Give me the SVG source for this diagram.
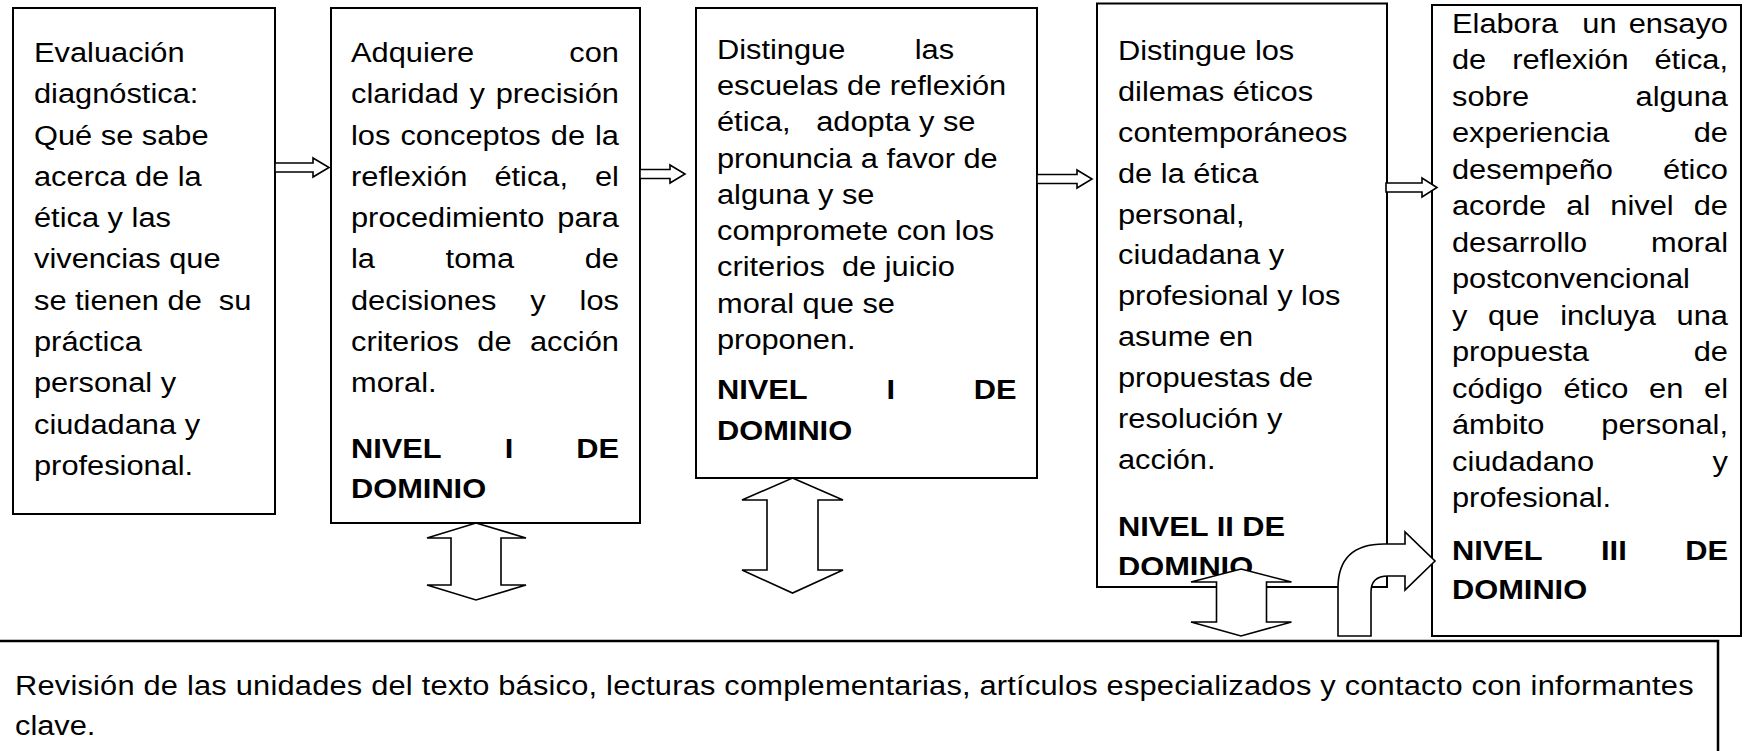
<svg xmlns="http://www.w3.org/2000/svg" width="1744" height="751" viewBox="0 0 1744 751">
<style>
.bx{fill:#fff;stroke:#000;stroke-width:2}
.t{font-family:"Liberation Sans",Arial,Helvetica,sans-serif;font-size:28px;fill:#000}
.b{font-weight:bold}
.e{text-anchor:end}
.ar{fill:#fff;stroke:#000;stroke-width:1.6;stroke-linejoin:miter}
</style>
<defs>
<clipPath id="clip4"><rect x="1097" y="0" width="290" height="575"/></clipPath>
</defs>
<rect x="0" y="0" width="1744" height="751" fill="#fff"/>

<g id="box1">
<rect class="bx" x="13" y="8" width="262" height="506"/>
<g transform="translate(34,0) scale(1.1,1)">
<text class="t">
<tspan x="0" y="62">Evaluación</tspan>
<tspan x="0" y="103.3">diagnóstica:</tspan>
<tspan x="0" y="144.6">Qué se sabe</tspan>
<tspan x="0" y="185.9">acerca de la</tspan>
<tspan x="0" y="227.2">ética y las</tspan>
<tspan x="0" y="268.5">vivencias que</tspan>
<tspan x="0" y="309.8">se tienen de&#160; su</tspan>
<tspan x="0" y="351.1">práctica</tspan>
<tspan x="0" y="392.4">personal y</tspan>
<tspan x="0" y="433.7">ciudadana y</tspan>
<tspan x="0" y="475">profesional.</tspan>
</text>
</g>
</g>

<g id="box2">
<rect class="bx" x="331" y="8" width="309" height="515"/>
<g transform="translate(351,0) scale(1.1,1)">
<text class="t" x="0" y="62">Adquiere</text><text class="t e" x="243.6" y="62">con</text>
<text class="t" x="0" y="103.3">claridad</text><text class="t" x="107.8" y="103.3">y</text><text class="t e" x="243.6" y="103.3">precisión</text>
<text class="t" x="0" y="144.6">los</text><text class="t" x="44.9" y="144.6">conceptos</text><text class="t" x="181.6" y="144.6">de</text><text class="t e" x="243.6" y="144.6">la</text>
<text class="t" x="0" y="185.9">reflexión</text><text class="t" x="130.4" y="185.9">ética,</text><text class="t e" x="243.6" y="185.9">el</text>
<text class="t" x="0" y="227.2">procedimiento</text><text class="t e" x="243.6" y="227.2">para</text>
<text class="t" x="0" y="268.5">la</text><text class="t" x="86" y="268.5">toma</text><text class="t e" x="243.6" y="268.5">de</text>
<text class="t" x="0" y="309.8">decisiones</text><text class="t" x="163" y="309.8">y</text><text class="t e" x="243.6" y="309.8">los</text>
<text class="t" x="0" y="351.1">criterios</text><text class="t" x="114.8" y="351.1">de</text><text class="t e" x="243.6" y="351.1">acción</text>
<text class="t" x="0" y="392.4">moral.</text>
<text class="t b" x="0" y="458">NIVEL</text><text class="t b" x="139.7" y="458">I</text><text class="t b e" x="243.6" y="458">DE</text>
<text class="t b" x="0" y="498">DOMINIO</text>
</g>
</g>

<g id="box3">
<rect class="bx" x="696" y="8" width="341" height="470"/>
<g transform="translate(717,0) scale(1.1,1)">
<text class="t" x="0" y="59">Distingue</text><text class="t e" x="215.5" y="59">las</text>
<text class="t">
<tspan x="0" y="95.25">escuelas de reflexión</tspan>
<tspan x="0" y="131.5">ética,&#160;&#160; adopta y se</tspan>
<tspan x="0" y="167.75">pronuncia a favor de</tspan>
<tspan x="0" y="204">alguna y se</tspan>
<tspan x="0" y="240.25">compromete con los</tspan>
<tspan x="0" y="276.5">criterios&#160; de juicio</tspan>
<tspan x="0" y="312.75">moral que se</tspan>
<tspan x="0" y="349">proponen.</tspan>
</text>
<text class="t b" x="0" y="399">NIVEL</text><text class="t b" x="154.1" y="399">I</text><text class="t b e" x="272.4" y="399">DE</text>
<text class="t b" x="0" y="440">DOMINIO</text>
</g>
</g>

<g id="box4">
<rect class="bx" x="1097" y="3.5" width="290" height="583.5"/>
<g clip-path="url(#clip4)">
<g transform="translate(1118,0) scale(1.1,1)">
<text class="t">
<tspan x="0" y="60">Distingue los</tspan>
<tspan x="0" y="100.9">dilemas éticos</tspan>
<tspan x="0" y="141.8">contemporáneos</tspan>
<tspan x="0" y="182.7">de la ética</tspan>
<tspan x="0" y="223.6">personal,</tspan>
<tspan x="0" y="264.5">ciudadana y</tspan>
<tspan x="0" y="305.4">profesional y los</tspan>
<tspan x="0" y="346.3">asume en</tspan>
<tspan x="0" y="387.2">propuestas de</tspan>
<tspan x="0" y="428.1">resolución y</tspan>
<tspan x="0" y="469">acción.</tspan>
</text>
<text class="t b">
<tspan x="0" y="536">NIVEL II DE</tspan>
<tspan x="0" y="576">DOMINIO</tspan>
</text>
</g>
</g>
</g>

<g id="box5">
<rect class="bx" x="1432" y="5" width="309" height="631"/>
<g transform="translate(1452,0) scale(1.1,1)">
<text class="t" x="0" y="33">Elabora</text><text class="t" x="118.5" y="33">un</text><text class="t e" x="250.9" y="33">ensayo</text>
<text class="t" x="0" y="69.5">de</text><text class="t" x="54.7" y="69.5">reflexión</text><text class="t e" x="250.9" y="69.5">ética,</text>
<text class="t" x="0" y="106">sobre</text><text class="t e" x="250.9" y="106">alguna</text>
<text class="t" x="0" y="142.5">experiencia</text><text class="t e" x="250.9" y="142.5">de</text>
<text class="t" x="0" y="179">desempeño</text><text class="t e" x="250.9" y="179">ético</text>
<text class="t" x="0" y="215.5">acorde</text><text class="t" x="103.9" y="215.5">al</text><text class="t" x="143.9" y="215.5">nivel</text><text class="t e" x="250.9" y="215.5">de</text>
<text class="t" x="0" y="252">desarrollo</text><text class="t e" x="250.9" y="252">moral</text>
<text class="t" x="0" y="288.5">postconvencional</text>
<text class="t" x="0" y="325">y</text><text class="t" x="32.8" y="325">que</text><text class="t" x="98.3" y="325">incluya</text><text class="t e" x="250.9" y="325">una</text>
<text class="t" x="0" y="361.5">propuesta</text><text class="t e" x="250.9" y="361.5">de</text>
<text class="t" x="0" y="398">código</text><text class="t" x="101.3" y="398">ético</text><text class="t" x="179.2" y="398">en</text><text class="t e" x="250.9" y="398">el</text>
<text class="t" x="0" y="434.5">ámbito</text><text class="t e" x="250.9" y="434.5">personal,</text>
<text class="t" x="0" y="471">ciudadano</text><text class="t e" x="250.9" y="471">y</text>
<text class="t" x="0" y="507.5">profesional.</text>
<text class="t b" x="0" y="560">NIVEL</text><text class="t b" x="135.5" y="560">III</text><text class="t b e" x="250.9" y="560">DE</text>
<text class="t b" x="0" y="599">DOMINIO</text>
</g>
</g>

<g id="box6">
<rect x="-3" y="641" width="1721" height="120" fill="#fff" stroke="#000" stroke-width="2.5"/>
<g transform="translate(15,0) scale(1.1,1)">
<text class="t" x="0" y="695" textLength="1526" lengthAdjust="spacing">Revisión de las unidades del texto básico, lecturas complementarias, artículos especializados y contacto con informantes</text>
<text class="t" x="0" y="735">clave.</text>
</g>
</g>

<g id="connectors">
<polygon class="ar" points="275,163 313,163 313,158 329,167.5 313,177 313,172 275,172"/>
<polygon class="ar" points="640,169.5 670,169.5 670,165 685,174 670,183 670,178.5 640,178.5"/>
<polygon class="ar" points="1037,174.5 1077,174.5 1077,170 1092,179 1077,188 1077,183.5 1037,183.5"/>
<polygon class="ar" points="1386,183 1422,183 1422,178 1437,187.5 1422,197 1422,192 1386,192"/>
<polygon class="ar" points="476,523 526,538 501,538 501,585 526,585 476,600 427,585 451,585 451,538 427,538"/>
<polygon class="ar" points="792.5,478 843,500 818,500 818,570 843,570 792.5,593 742,570 767,570 767,500 742,500"/>
<polygon class="ar" points="1241,569 1291.5,582 1266.5,582 1266.5,622 1291.5,622 1241,636 1191,622 1216.5,622 1216.5,582 1191,582"/>
<path class="ar" d="M1338,636 V588 Q1338,544 1384,544 H1405 V532 L1435,561 L1405,590 V576 H1388 Q1371,576 1371,592 V636 Z"/>
</g>
</svg>
